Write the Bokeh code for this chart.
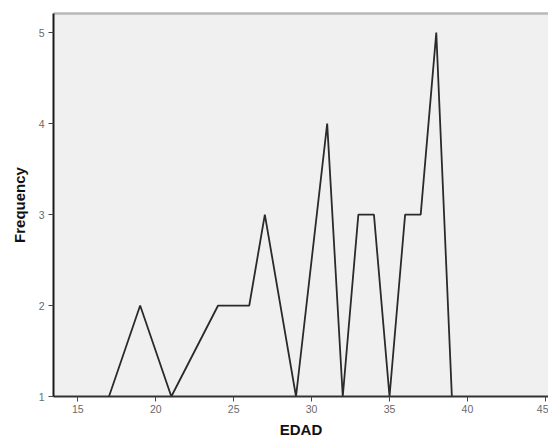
from bokeh.plotting import figure
from bokeh.models import LinearAxis, Range1d, FixedTicker
from bokeh.embed import file_html
from bokeh.resources import INLINE

# Data
edad = [17, 19, 21, 24, 25, 26, 27, 29, 31, 32, 33, 34, 35, 36, 37, 38, 39]
frequency = [1, 2, 1, 2, 2, 2, 3, 1, 4, 1, 3, 3, 1, 3, 3, 5, 1]
x_ticks = [15, 20, 25, 30, 35, 40, 45]
y_ticks = [1, 2, 3, 4, 5]

p = figure(width=548, height=440, output_backend="svg", toolbar_location=None,
           x_range=Range1d(13.44, 45.2), y_range=Range1d(1, 5.21),
           min_border_left=53, min_border_right=0, min_border_top=13, min_border_bottom=0)
p.background_fill_color = "#f0f0f0"
p.border_fill_color = "white"
p.outline_line_color = None
p.grid.visible = False

p.line(edad, frequency, line_color="#2a2a2a", line_width=1.8)

font = "Liberation Sans"
xa = p.xaxis[0]
xa.ticker = FixedTicker(ticks=x_ticks)
xa.axis_label = "EDAD"
ya = p.yaxis[0]
ya.ticker = FixedTicker(ticks=y_ticks)
ya.axis_label = "Frequency"
for ax in (xa, ya):
    ax.axis_line_color = "#1a1a1a"
    ax.axis_line_width = 2
    ax.major_tick_line_color = "#444444"
    ax.major_tick_in = 0
    ax.major_tick_out = 5
    ax.minor_tick_line_color = None
    ax.major_label_text_font = font
    ax.major_label_text_font_size = "10.5px"
    ax.major_label_text_color = "#6a6a6a"
    ax.axis_label_text_font = font
    ax.axis_label_text_font_size = "15px"
    ax.axis_label_text_font_style = "bold"
    ax.axis_label_text_color = "#111111"
xa.axis_line_color = "#333333"
xa.major_label_standoff = 3
xa.axis_label_standoff = 5
ya.major_label_standoff = 4
ya.axis_label_standoff = 8

top = LinearAxis(axis_line_color="#b8b8b8", axis_line_width=2.5,
                 major_tick_line_color=None, minor_tick_line_color=None,
                 major_label_text_color=None, major_label_text_font_size="1px",
                 major_label_standoff=0, major_tick_out=0)
top.ticker = FixedTicker(ticks=[])
p.add_layout(top, "above")

open("out.html", "w").write(file_html(p, INLINE))
